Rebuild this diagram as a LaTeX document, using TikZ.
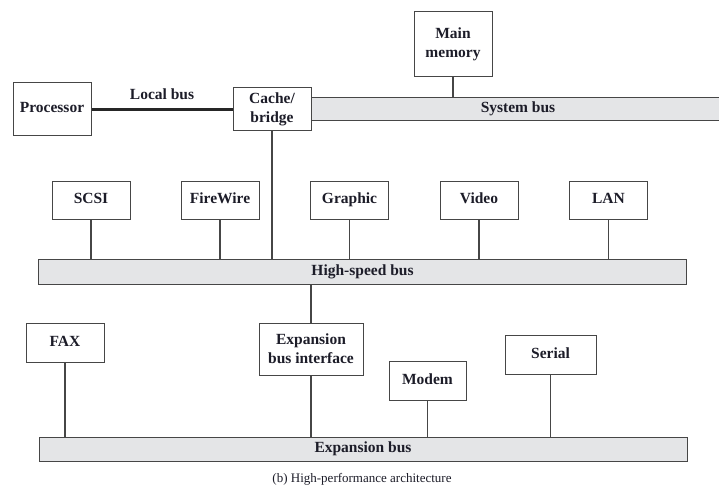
\documentclass[tikz,border=0pt]{standalone}
\usepackage{amsmath}
\usepackage{fontspec}
\setmainfont{Liberation Serif}
\definecolor{edge}{RGB}{70,70,70}
\definecolor{busfill}{RGB}{228,229,231}
\definecolor{ink}{RGB}{28,28,40}
\tikzset{
  box/.style={draw=edge, line width=1pt, fill=white, align=center, inner sep=0pt, text=ink,
    font=\bfseries\fontsize{15.5}{19}\selectfont},
  unit/.style={box, text height=10.5pt, text depth=3.5pt},
  bus/.style={draw=edge, line width=1pt, fill=busfill, inner sep=0pt, text=ink,
    text height=10.5pt, text depth=3.5pt, font=\bfseries\fontsize{15.5}{19}\selectfont},
  link/.style={draw=edge, line width=1.4pt}
}
\begin{document}
\begin{tikzpicture}[x=1pt,y=-1pt]
\useasboundingbox (0,0) rectangle (719,489);
\node [unit, minimum width=78pt, minimum height=53pt] (proc) at (52,109.5) {Processor};
\node [box, minimum width=78pt, minimum height=43pt] (cache) at (272,109.5) {Cache/\\bridge};
\node [box, minimum width=78pt, minimum height=65pt] (mem) at (453,44.5) {Main\\memory};
\node [bus, minimum width=414pt, minimum height=23pt] (sysbus) at (518,109.5) {System bus};
\node [text=ink, font=\bfseries\fontsize{15.5}{19}\selectfont] (local) at (162,94) {Local bus};
\draw [draw=black!85, line width=3pt] (proc.east) -- (cache.west);
\draw [link] (mem.south) -- (mem.south |- sysbus.north);

\node [bus, minimum width=648pt, minimum height=25pt] (hsbus) at (362.5,271.5) {High-speed bus};
\node [unit, minimum width=78pt, minimum height=38pt] (scsi) at (91,200) {SCSI};
\node [unit, minimum width=78pt, minimum height=38pt] (fw) at (220,200) {FireWire};
\node [unit, minimum width=78pt, minimum height=38pt] (gfx) at (349.5,200) {Graphic};
\node [unit, minimum width=78pt, minimum height=38pt] (video) at (479,200) {Video};
\node [unit, minimum width=78pt, minimum height=38pt] (lan) at (608.5,200) {LAN};
\foreach \n in {scsi,fw,gfx,video,lan}
  \draw [link] (\n.south) -- (\n.south |- hsbus.north);
\draw [link] (cache.south) -- (cache.south |- hsbus.north);

\node [bus, minimum width=648pt, minimum height=24pt] (expbus) at (363,449) {Expansion bus};
\node [unit, minimum width=78pt, minimum height=39pt] (fax) at (65,342.5) {FAX};
\node [box, minimum width=104pt, minimum height=52pt] (ebi) at (311,349) {Expansion\\bus interface};
\node [unit, minimum width=77pt, minimum height=39pt] (modem) at (427.5,380.5) {Modem};
\node [unit, minimum width=91pt, minimum height=39pt] (serial) at (550.5,354.5) {Serial};
\foreach \n in {fax,ebi,modem,serial}
  \draw [link] (\n.south) -- (\n.south |- expbus.north);
\draw [link] (ebi.north) -- (ebi.north |- hsbus.south);

\node [text=ink, font=\fontsize{13}{15}\selectfont] (caption) at (362,479) {(b) High-performance architecture};
\end{tikzpicture}
\end{document}
